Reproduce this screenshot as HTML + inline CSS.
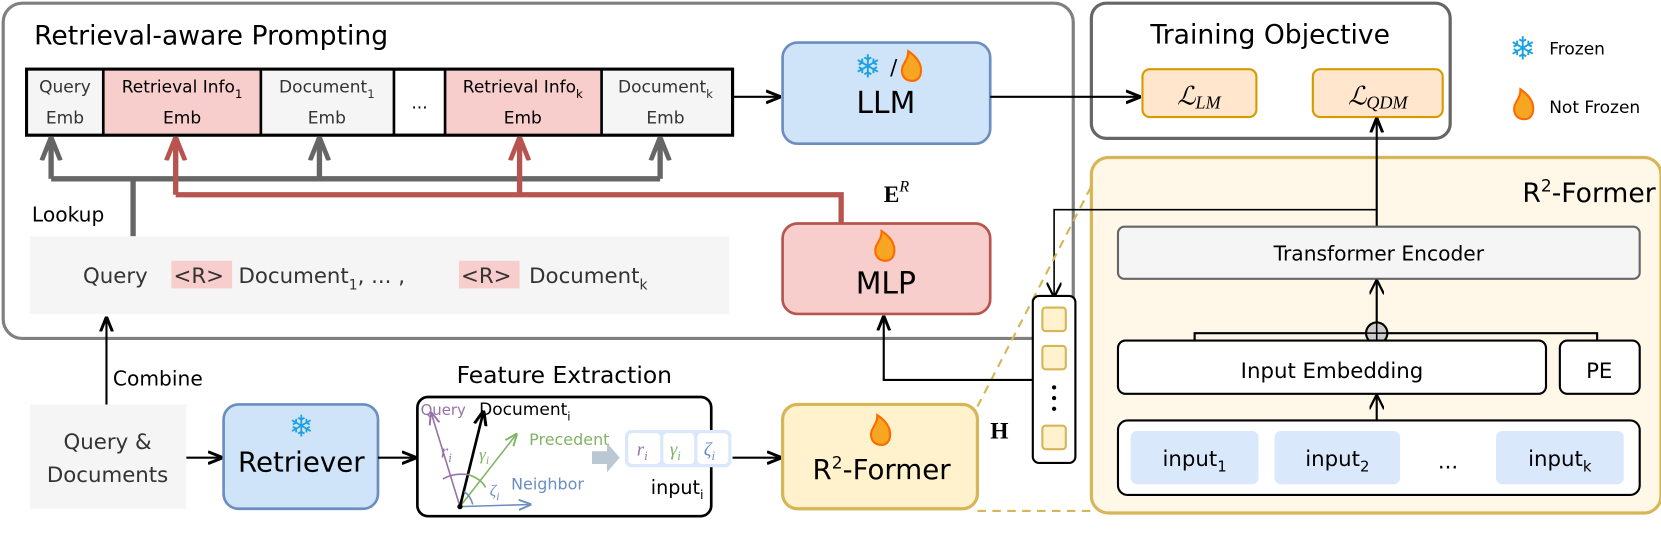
<!DOCTYPE html>
<html><head><meta charset="utf-8"><style>
html,body{margin:0;padding:0;background:#fff;width:1661px;height:546px;overflow:hidden;}
svg{display:block;position:absolute;left:0;top:0;width:1661px;height:546px;font-family:"DejaVu Sans","Liberation Sans",sans-serif;}
.m{font-family:"Liberation Serif",serif;font-style:italic;}
</style></head><body>
<svg width="1661" height="546" viewBox="0 0 1560 513" preserveAspectRatio="none" xmlns="http://www.w3.org/2000/svg">
<defs>
<marker id="as" viewBox="0 0 10 10" refX="9" refY="5" markerWidth="14" markerHeight="14" orient="auto" markerUnits="userSpaceOnUse"><path d="M0,0 L10,5 L0,10" fill="none" stroke="#000" stroke-width="1.5"/></marker>
<marker id="ag" viewBox="0 0 10 10" refX="9" refY="5" markerWidth="22" markerHeight="22" orient="auto" markerUnits="userSpaceOnUse"><path d="M0,1 L10,5 L0,9" fill="none" stroke="#666" stroke-width="2"/></marker>
<marker id="ar" viewBox="0 0 10 10" refX="9" refY="5" markerWidth="22" markerHeight="22" orient="auto" markerUnits="userSpaceOnUse"><path d="M0,1 L10,5 L0,9" fill="none" stroke="#b85450" stroke-width="2"/></marker>
<marker id="ap" viewBox="0 0 10 10" refX="9" refY="5" markerWidth="12" markerHeight="12" orient="auto" markerUnits="userSpaceOnUse"><path d="M0,1 L10,5 L0,9" fill="none" stroke="#9673a6" stroke-width="1.5"/></marker>
<marker id="agr" viewBox="0 0 10 10" refX="9" refY="5" markerWidth="12" markerHeight="12" orient="auto" markerUnits="userSpaceOnUse"><path d="M0,1 L10,5 L0,9" fill="none" stroke="#82b366" stroke-width="1.5"/></marker>
<marker id="ab" viewBox="0 0 10 10" refX="9" refY="5" markerWidth="12" markerHeight="12" orient="auto" markerUnits="userSpaceOnUse"><path d="M0,1 L10,5 L0,9" fill="none" stroke="#6c8ebf" stroke-width="1.5"/></marker>
<marker id="ak" viewBox="0 0 10 10" refX="9" refY="5" markerWidth="14" markerHeight="14" orient="auto" markerUnits="userSpaceOnUse"><path d="M0,1 L10,5 L0,9" fill="none" stroke="#000" stroke-width="2"/></marker>
</defs>

<rect x="3" y="3" width="1005" height="315" rx="18" fill="#fff" stroke="#808080" stroke-width="3"/>
<text x="32" y="42" font-size="25">Retrieval-aware Prompting</text>

<rect x="25" y="65" width="663" height="62" fill="#fff" stroke="#000" stroke-width="3"/>
<rect x="26.5" y="66.5" width="70.5" height="59" fill="#f5f5f5"/>
<rect x="97" y="66.5" width="148" height="59" fill="#f8cecc"/>
<rect x="245" y="66.5" width="125" height="59" fill="#f5f5f5"/>
<rect x="418" y="66.5" width="147" height="59" fill="#f8cecc"/>
<rect x="565" y="66.5" width="121.5" height="59" fill="#f5f5f5"/>
<g stroke="#000" stroke-width="2.5"><line x1="97" y1="65" x2="97" y2="127"/><line x1="245" y1="65" x2="245" y2="127"/><line x1="370" y1="65" x2="370" y2="127"/><line x1="418" y1="65" x2="418" y2="127"/><line x1="565" y1="65" x2="565" y2="127"/></g>
<g font-size="16" text-anchor="middle">
<text x="61" y="87" fill="#333">Query</text><text x="61" y="116" fill="#333">Emb</text>
<text x="171" y="87">Retrieval Info<tspan font-size="11" dy="5">1</tspan></text><text x="171" y="116">Emb</text>
<text x="307" y="87" fill="#333">Document<tspan font-size="11" dy="5">1</tspan></text><text x="307" y="116" fill="#333">Emb</text>
<text x="394" y="102">...</text>
<text x="491" y="87">Retrieval Info<tspan font-size="11" dy="5">k</tspan></text><text x="491" y="116">Emb</text>
<text x="625" y="87" fill="#333">Document<tspan font-size="11" dy="5">k</tspan></text><text x="625" y="116" fill="#333">Emb</text>
</g>
<line x1="688" y1="91" x2="732" y2="91" stroke="#000" stroke-width="2" marker-end="url(#ak)"/>

<g stroke="#666" stroke-width="5" fill="none">
<polyline points="48,168 620,168"/>
<line x1="48" y1="168" x2="48" y2="131" marker-end="url(#ag)"/>
<line x1="300" y1="168" x2="300" y2="131" marker-end="url(#ag)"/>
<line x1="620" y1="168" x2="620" y2="131" marker-end="url(#ag)"/>
<line x1="125" y1="168" x2="125" y2="222"/>
</g>
<g stroke="#b85450" stroke-width="5" fill="none">
<polyline points="165,183 790,183 790,210"/>
<line x1="165" y1="183" x2="165" y2="131" marker-end="url(#ar)"/>
<line x1="488" y1="183" x2="488" y2="131" marker-end="url(#ar)"/>
</g>
<text x="30" y="208" font-size="19">Lookup</text>
<text x="830" y="190" font-size="22" font-weight="bold" font-family="Liberation Serif,serif">E<tspan class="m" font-weight="normal" font-size="15" dy="-10">R</tspan></text>

<rect x="28" y="222" width="657" height="73" fill="#f5f5f5"/>
<rect x="161" y="245" width="57" height="26" fill="#f8cecc"/>
<rect x="431" y="245" width="57" height="26" fill="#f8cecc"/>
<text x="78" y="266" font-size="20" fill="#333" xml:space="preserve">Query <tspan x="163">&lt;R&gt;</tspan> <tspan x="224">Document</tspan><tspan font-size="13" dy="6">1</tspan><tspan dy="-6">, ... , </tspan><tspan x="433">&lt;R&gt;</tspan><tspan x="497">Document</tspan><tspan font-size="13" dy="6">k</tspan></text>

<rect x="735" y="40" width="195" height="95" rx="14" fill="#cfe4f8" stroke="#6c8ebf" stroke-width="2.5"/>
<text x="815" y="73" font-size="30" fill="#1ba1e2" text-anchor="middle">❄</text>
<text x="836" y="70" font-size="20">/</text>
<path d="M857,76 c-10,0 -12,-10 -8,-16 c2,-4 4,-6 4,-12 c6,4 12,10 12,18 c0,6 -3,10 -8,10z" fill="#f5a623" stroke="#ff6a00" stroke-width="2"/>
<text x="832" y="106" font-size="28" text-anchor="middle">LLM</text>

<rect x="735" y="210" width="195" height="85" rx="14" fill="#f8cecc" stroke="#b85450" stroke-width="2.5"/>
<path d="M832,245 c-10,0 -12,-10 -8,-16 c2,-4 4,-6 4,-12 c6,4 12,10 12,18 c0,6 -3,10 -8,10z" fill="#f5a623" stroke="#ff6a00" stroke-width="2"/>
<text x="832" y="276" font-size="28" text-anchor="middle">MLP</text>

<rect x="1025" y="3" width="337" height="127" rx="14" fill="#fff" stroke="#666" stroke-width="3"/>
<text x="1193" y="41" font-size="25" text-anchor="middle">Training Objective</text>
<rect x="1073" y="65" width="107" height="45" rx="7" fill="#ffe6cc" stroke="#d79b00" stroke-width="2"/>
<rect x="1233" y="65" width="122" height="45" rx="7" fill="#ffe6cc" stroke="#d79b00" stroke-width="2"/>
<text x="1126" y="98" font-size="24" text-anchor="middle" class="m">ℒ<tspan font-size="17" dy="4">LM</tspan></text>
<text x="1294" y="98" font-size="24" text-anchor="middle" class="m">ℒ<tspan font-size="17" dy="4">QDM</tspan></text>
<line x1="930" y1="91" x2="1070" y2="91" stroke="#000" stroke-width="2" marker-end="url(#ak)"/>

<text x="1430" y="56" font-size="30" fill="#1ba1e2" text-anchor="middle">❄</text>
<text x="1455" y="51" font-size="16">Frozen</text>
<path d="M1432,112 c-10,0 -12,-10 -8,-16 c2,-4 4,-6 4,-12 c6,4 12,10 12,18 c0,6 -3,10 -8,10z" fill="#f5a623" stroke="#ff6a00" stroke-width="2"/>
<text x="1455" y="106" font-size="16">Not Frozen</text>

<rect x="1025" y="148" width="535" height="334" rx="16" fill="#fff8e8" stroke="#d6b656" stroke-width="3"/>
<text x="1555" y="190" font-size="25" text-anchor="end">R<tspan font-size="16" dy="-10">2</tspan><tspan dy="10">-Former</tspan></text>
<line x1="1293" y1="213" x2="1293" y2="112" stroke="#000" stroke-width="2" marker-end="url(#ak)"/>
<polyline points="1293,197 990,197 990,278" fill="none" stroke="#000" stroke-width="1.5" marker-end="url(#as)"/>
<rect x="1050" y="213" width="490" height="49" rx="6" fill="#f5f5f5" stroke="#666" stroke-width="2"/>
<text x="1295" y="245" font-size="19" text-anchor="middle">Transformer Encoder</text>
<polyline points="1122,320 1122,313 1500,313 1500,320" fill="none" stroke="#000" stroke-width="2"/>
<line x1="1293" y1="303" x2="1293" y2="264" stroke="#000" stroke-width="2" marker-end="url(#as)"/>
<circle cx="1293" cy="313" r="10" fill="#ccc" stroke="#000" stroke-width="2"/>
<line x1="1283" y1="313" x2="1303" y2="313" stroke="#000" stroke-width="1.5"/><line x1="1293" y1="303" x2="1293" y2="323" stroke="#000" stroke-width="1.5"/>
<rect x="1050" y="320" width="402" height="50" rx="7" fill="#fff" stroke="#000" stroke-width="2"/>
<text x="1251" y="355" font-size="20" text-anchor="middle">Input Embedding</text>
<rect x="1465" y="320" width="75" height="50" rx="7" fill="#fff" stroke="#000" stroke-width="2"/>
<text x="1502" y="355" font-size="20" text-anchor="middle">PE</text>
<line x1="1293" y1="395" x2="1293" y2="372" stroke="#000" stroke-width="2" marker-end="url(#as)"/>
<rect x="1050" y="395" width="490" height="70" rx="9" fill="#fff" stroke="#000" stroke-width="2"/>
<rect x="1062" y="405" width="120" height="50" rx="6" fill="#dae8fc"/>
<rect x="1197" y="405" width="118" height="50" rx="6" fill="#dae8fc"/>
<rect x="1405" y="405" width="120" height="50" rx="6" fill="#dae8fc"/>
<g font-size="20" text-anchor="middle">
<text x="1122" y="438">input<tspan font-size="14" dy="5">1</tspan></text>
<text x="1256" y="438">input<tspan font-size="14" dy="5">2</tspan></text>
<text x="1360" y="440">...</text>
<text x="1465" y="438">input<tspan font-size="14" dy="5">k</tspan></text>
</g>

<line x1="918" y1="382" x2="1025" y2="175" stroke="#d6b656" stroke-width="2" stroke-dasharray="8,6"/>
<line x1="918" y1="480" x2="1025" y2="480" stroke="#d6b656" stroke-width="2" stroke-dasharray="8,6"/>

<rect x="970" y="278" width="40" height="157" rx="6" fill="#fff" stroke="#000" stroke-width="2"/>
<g fill="#fff2cc" stroke="#d6b656" stroke-width="2">
<rect x="979" y="289" width="22" height="22" rx="3"/><rect x="979" y="325" width="22" height="22" rx="3"/><rect x="979" y="400" width="22" height="22" rx="3"/>
</g>
<g fill="#000"><circle cx="990" cy="364" r="2"/><circle cx="990" cy="374" r="2"/><circle cx="990" cy="384" r="2"/></g>
<text x="930" y="412" font-size="22" font-weight="bold" font-family="Liberation Serif,serif">H</text>
<polyline points="970,357 830,357 830,298" fill="none" stroke="#000" stroke-width="2" marker-end="url(#ak)"/>

<rect x="28" y="380" width="147" height="98" fill="#f5f5f5"/>
<text x="101" y="422" font-size="20" fill="#333" text-anchor="middle">Query &amp;</text>
<text x="101" y="453" font-size="20" fill="#333" text-anchor="middle">Documents</text>
<line x1="100" y1="380" x2="100" y2="299" stroke="#000" stroke-width="2" marker-end="url(#ak)"/>
<text x="106" y="362" font-size="19">Combine</text>
<line x1="175" y1="430" x2="208" y2="430" stroke="#000" stroke-width="2" marker-end="url(#ak)"/>
<rect x="210" y="380" width="145" height="98" rx="14" fill="#cfe4f8" stroke="#6c8ebf" stroke-width="2.5"/>
<text x="283" y="410" font-size="28" fill="#1ba1e2" text-anchor="middle">❄</text>
<text x="283" y="443" font-size="26" text-anchor="middle">Retriever</text>
<line x1="355" y1="430" x2="390" y2="430" stroke="#000" stroke-width="2" marker-end="url(#ak)"/>

<text x="530" y="360" font-size="22" text-anchor="middle">Feature Extraction</text>
<rect x="392" y="373" width="276" height="112" rx="10" fill="#fff" stroke="#000" stroke-width="2.5"/>
<line x1="432" y1="476" x2="405" y2="388" stroke="#9673a6" stroke-width="1.5" marker-end="url(#ap)"/>
<line x1="432" y1="476" x2="485" y2="408" stroke="#82b366" stroke-width="1.5" marker-end="url(#agr)"/>
<line x1="432" y1="476" x2="498" y2="474" stroke="#6c8ebf" stroke-width="1.5" marker-end="url(#ab)"/>
<line x1="432" y1="476" x2="454" y2="387" stroke="#000" stroke-width="2.5" marker-end="url(#ak)"/>
<path d="M416,450 Q426,444 440,446" fill="none" stroke="#9673a6" stroke-width="1.5"/>
<path d="M440,446 Q452,450 456,458" fill="none" stroke="#82b366" stroke-width="1.5"/>
<path d="M436,462 Q442,466 444,474" fill="none" stroke="#6c8ebf" stroke-width="1.5"/>
<circle cx="432" cy="476" r="2.5" fill="#000"/>
<text x="395" y="390" font-size="14" fill="#9673a6">Query</text>
<text x="450" y="390" font-size="16">Document<tspan font-size="11" dy="5">i</tspan></text>
<text x="497" y="418" font-size="15" fill="#82b366">Precedent</text>
<text x="480" y="460" font-size="15" fill="#6c8ebf">Neighbor</text>
<text x="414" y="430" font-size="18" fill="#9673a6" class="m">r<tspan font-size="12" dy="4">i</tspan></text>
<text x="450" y="432" font-size="16" fill="#82b366" class="m">γ<tspan font-size="11" dy="4">i</tspan></text>
<text x="460" y="466" font-size="15" fill="#6c8ebf" class="m">ζ<tspan font-size="11" dy="4">i</tspan></text>
<path d="M556,424 L570,424 L570,416 L582,430 L570,444 L570,436 L556,436 Z" fill="#bac8d3"/>
<rect x="587" y="404" width="100" height="35" rx="6" fill="#dae8fc"/>
<rect x="590" y="407" width="30" height="29" rx="4" fill="#fff"/>
<rect x="623" y="407" width="29" height="29" rx="4" fill="#fff"/>
<rect x="655" y="407" width="29" height="29" rx="4" fill="#fff"/>
<text x="598" y="428" font-size="18" fill="#9673a6" class="m">r<tspan font-size="12" dy="4">i</tspan></text>
<text x="629" y="428" font-size="18" fill="#82b366" class="m">γ<tspan font-size="12" dy="4">i</tspan></text>
<text x="661" y="428" font-size="18" fill="#6c8ebf" class="m">ζ<tspan font-size="12" dy="4">i</tspan></text>
<text x="636" y="464" font-size="18" text-anchor="middle">input<tspan font-size="12" dy="5">i</tspan></text>
<line x1="688" y1="430" x2="733" y2="430" stroke="#000" stroke-width="2" marker-end="url(#ak)"/>

<rect x="735" y="380" width="183" height="98" rx="14" fill="#fff2cc" stroke="#d6b656" stroke-width="3"/>
<path d="M828,418 c-10,0 -12,-10 -8,-16 c2,-4 4,-6 4,-12 c6,4 12,10 12,18 c0,6 -3,10 -8,10z" fill="#f5a623" stroke="#ff6a00" stroke-width="2"/>
<text x="828" y="450" font-size="26" text-anchor="middle">R<tspan font-size="16" dy="-10">2</tspan><tspan dy="10">-Former</tspan></text>
</svg>
</body></html>
